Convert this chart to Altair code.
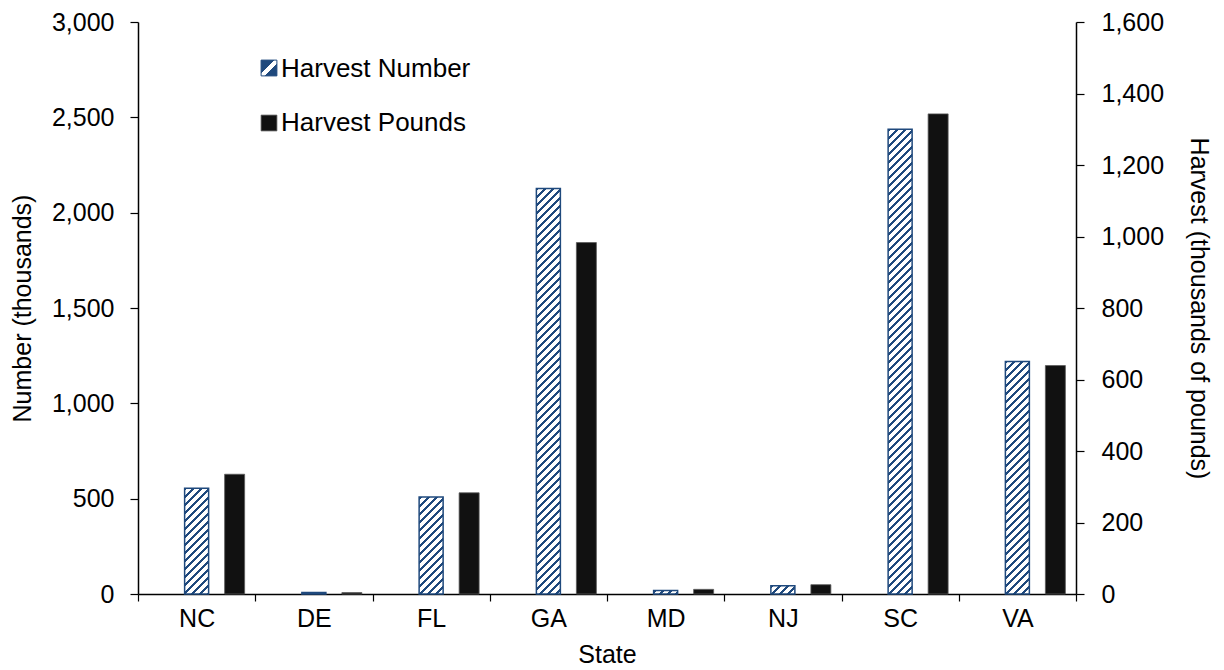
import altair as alt
import pandas as pd

# ---------------- data ----------------
states = ["NC", "DE", "FL", "GA", "MD", "NJ", "SC", "VA"]
harvest_number = [555, 8, 509, 2127, 18, 43, 2437, 1220]      # thousands of fish
harvest_pounds = [335, 4, 283, 983, 13, 26, 1343, 639]         # thousands of pounds
legend_labels = ["Harvest Number", "Harvest Pounds"]
left_ticks = [0, 500, 1000, 1500, 2000, 2500, 3000]
right_ticks = [0, 200, 400, 600, 800, 1000, 1200, 1400, 1600]

# ---------------- style ----------------
W, H = 938, 572
NUM_MAX, LB_MAX = 3000, 1600
BLUE = "#1F497D"
FONT = "Liberation Sans"
NUM_W = 24
LB_W = 20

df = pd.DataFrame({"state": states, "number": harvest_number, "pounds": harvest_pounds})
leg_df = pd.DataFrame({"label": legend_labels})


def hatch(w, h, period=8.0, duty=0.38):
    """45-degree '/' stripes as a hard-stop linear gradient in bbox units."""
    h = max(h, 1.0)
    total = w + h
    m = total / (w * w + h * h)
    stops = []
    pos = 0.0
    while pos < total:
        a = pos / total
        b = min((pos + duty * period) / total, 1.0)
        c = min((pos + period) / total, 1.0)
        stops += [(a, BLUE), (b, BLUE), (b, "#ffffff"), (c, "#ffffff")]
        pos += period
    return alt.LinearGradient(
        gradient="linear",
        stops=[alt.GradientStop(offset=o, color=col) for o, col in stops],
        x1=0, y1=0, x2=m * w, y2=m * h,
    )


x_enc = alt.X(
    "state:N",
    sort=states,
    scale=alt.Scale(domain=states, paddingInner=0, paddingOuter=0),
    axis=alt.Axis(title="State", tickBand="extent", labelAngle=0, tickSize=7,
                  labelPadding=5, titlePadding=11),
)

left_axis = alt.Axis(title="Number (thousands)", values=left_ticks, format=",d",
                     tickSize=8, labelPadding=16, titlePadding=16)
right_axis = alt.Axis(title="Harvest (thousands of pounds)", orient="right",
                      values=right_ticks, format=",d", tickSize=8,
                      labelPadding=17, titlePadding=22, titleAngle=90)

number_layers = []
for s, v in zip(states, harvest_number):
    hpx = v / NUM_MAX * H
    number_layers.append(
        alt.Chart(df)
        .transform_filter(alt.datum.state == s)
        .mark_bar(size=NUM_W, fill=hatch(NUM_W, hpx), stroke=BLUE, strokeWidth=1.5)
        .encode(
            x=x_enc,
            y=alt.Y("number:Q", scale=alt.Scale(domain=[0, NUM_MAX]), axis=left_axis),
        )
    )
number_group = alt.layer(*number_layers)

pounds_layer = (
    alt.Chart(df)
    .mark_bar(size=LB_W, xOffset=38, fill="#111111", stroke="#5a5a5a", strokeWidth=0.8)
    .encode(
        x=x_enc,
        y=alt.Y("pounds:Q", scale=alt.Scale(domain=[0, LB_MAX]), axis=right_axis),
    )
)

# ---------------- legend ----------------
sq_grad = alt.LinearGradient(
    gradient="linear",
    stops=[alt.GradientStop(offset=0, color=BLUE), alt.GradientStop(offset=0.42, color=BLUE),
           alt.GradientStop(offset=0.42, color="#ffffff"), alt.GradientStop(offset=0.62, color="#ffffff"),
           alt.GradientStop(offset=0.62, color=BLUE), alt.GradientStop(offset=1, color=BLUE)],
    x1=0, y1=0, x2=1, y2=1,
)
leg_sq1 = (
    alt.Chart(leg_df).transform_filter(alt.datum.label == legend_labels[0])
    .mark_square(size=250, fill=sq_grad, stroke=BLUE, strokeWidth=1, opacity=1)
    .encode(x=alt.value(131), y=alt.value(46))
)
leg_sq2 = (
    alt.Chart(leg_df).transform_filter(alt.datum.label == legend_labels[1])
    .mark_square(size=250, fill="#111111", stroke="#5a5a5a", strokeWidth=0.8, opacity=1)
    .encode(x=alt.value(131), y=alt.value(101))
)
leg_t1 = (
    alt.Chart(leg_df).transform_filter(alt.datum.label == legend_labels[0])
    .mark_text(align="left", baseline="middle", font=FONT, fontSize=26, color="black")
    .encode(x=alt.value(143), y=alt.value(47), text="label:N")
)
leg_t2 = (
    alt.Chart(leg_df).transform_filter(alt.datum.label == legend_labels[1])
    .mark_text(align="left", baseline="middle", font=FONT, fontSize=26, color="black")
    .encode(x=alt.value(143), y=alt.value(101), text="label:N")
)

chart = (
    alt.layer(number_group, pounds_layer, leg_sq1, leg_sq2, leg_t1, leg_t2)
    .resolve_scale(y="independent")
    .properties(
        width=W, height=H,
        autosize=alt.AutoSizeParams(type="none"),
        padding={"left": 130, "top": 14, "right": 140, "bottom": 74},
    )
    .configure_axis(
        labelFont=FONT, titleFont=FONT, labelFontSize=25, titleFontSize=25,
        labelColor="black", titleColor="black", titleFontWeight="normal",
        domainColor="black", tickColor="black", domainWidth=1.5, tickWidth=1.2,
        grid=False,
    )
    .configure_view(strokeWidth=0)
)

chart.save("out.html", embed_options={"renderer": "svg", "actions": False})
